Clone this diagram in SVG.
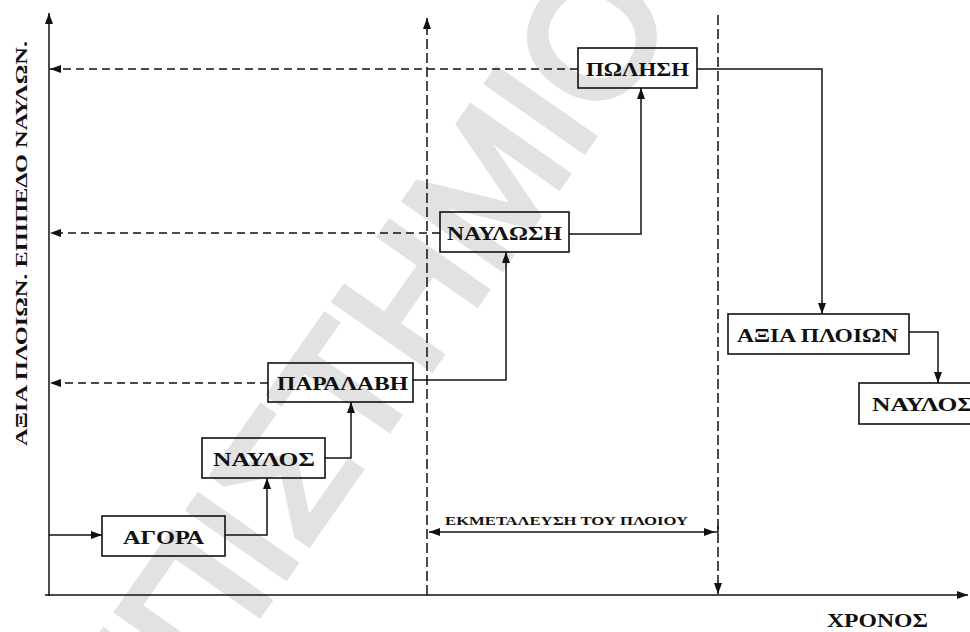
<svg xmlns="http://www.w3.org/2000/svg" width="970" height="632" viewBox="0 0 970 632">
<style>
.box{fill:none;stroke:#111;stroke-width:1.6}
.lbl{font-family:"Liberation Serif","DejaVu Serif",serif;font-weight:bold;font-size:19px;fill:#111}
.ln{fill:none;stroke:#111;stroke-width:1.5}
.dash{fill:none;stroke:#111;stroke-width:1.5;stroke-dasharray:8 5}
.vdash{fill:none;stroke:#111;stroke-width:1.5;stroke-dasharray:10 4}
.wm{font-family:"Liberation Sans","DejaVu Sans",sans-serif;font-size:170px;fill:#e2e2e2;stroke:#e2e2e2;stroke-width:7;stroke-linejoin:miter}
</style>
<defs>
<marker id="ah" markerUnits="userSpaceOnUse" markerWidth="12" markerHeight="8" refX="11" refY="4" orient="auto-start-reverse">
<path d="M0,0 L11,4 L0,8 z" fill="#111"/>
</marker>
</defs>
<rect width="970" height="632" fill="#fff"/>
<text class="wm" transform="translate(678,16) rotate(-55)" text-anchor="end">ΠΑΝΕΠΙΣΤΗΜΙΟ</text>

<g id="axes">
<line class="ln" x1="49" y1="596" x2="49" y2="13" marker-end="url(#ah)"/>
<line class="ln" x1="45" y1="595" x2="968" y2="595" marker-end="url(#ah)"/>
<text class="lbl" style="font-size:17px" transform="translate(27,243.5) rotate(-90)" text-anchor="middle" textLength="405" lengthAdjust="spacingAndGlyphs">ΑΞΙΑ ΠΛΟΙΩΝ. ΕΠΙΠΕΔΟ ΝΑΥΛΩΝ.</text>
<text class="lbl" x="827" y="627" textLength="101" lengthAdjust="spacingAndGlyphs">ΧΡΟΝΟΣ</text>
</g>

<g id="connectors">
<line class="vdash" x1="427" y1="595" x2="427" y2="18" marker-end="url(#ah)"/>
<line class="vdash" x1="718" y1="15" x2="718" y2="594" marker-end="url(#ah)"/>
<path class="dash" d="M578,69 H50" marker-end="url(#ah)"/>
<path class="dash" d="M440,233 H50" marker-end="url(#ah)"/>
<path class="dash" d="M268,383 H50" marker-end="url(#ah)"/>
<path class="ln" d="M49,535 H102" marker-end="url(#ah)"/>
<path class="ln" d="M225,535 H267 V478" marker-end="url(#ah)"/>
<path class="ln" d="M325,458 H351 V402" marker-end="url(#ah)"/>
<path class="ln" d="M413,380 H506 V252" marker-end="url(#ah)"/>
<path class="ln" d="M569,234 H641 V88" marker-end="url(#ah)"/>
<path class="ln" d="M697,69 H822 V314" marker-end="url(#ah)"/>
<path class="ln" d="M909,332 H938 V383" marker-end="url(#ah)"/>
<path class="ln" d="M429,532 H715" marker-start="url(#ah)" marker-end="url(#ah)"/>
<path class="ln" d="M715,532 H718 V526"/>
<text class="lbl" style="font-size:13px" x="445" y="525" textLength="243" lengthAdjust="spacingAndGlyphs">ΕΚΜΕΤΑΛΕΥΣΗ ΤΟΥ ΠΛΟΙΟΥ</text>
</g>

<g id="agora">
<rect class="box" x="102" y="516" width="123" height="40"/>
<text class="lbl" x="163.5" y="543.5" text-anchor="middle" textLength="81" lengthAdjust="spacingAndGlyphs">ΑΓΟΡΑ</text>
</g>
<g id="naylos1">
<rect class="box" x="202" y="438" width="123" height="40"/>
<text class="lbl" x="264" y="465.5" text-anchor="middle" textLength="102" lengthAdjust="spacingAndGlyphs">ΝΑΥΛΟΣ</text>
</g>
<g id="paralavi">
<rect class="box" x="268" y="363" width="145" height="39"/>
<text class="lbl" x="342.5" y="389.5" text-anchor="middle" textLength="131" lengthAdjust="spacingAndGlyphs">ΠΑΡΑΛΑΒΗ</text>
</g>
<g id="naylosi">
<rect class="box" x="440" y="212" width="129" height="40"/>
<text class="lbl" x="504.5" y="239.5" text-anchor="middle" textLength="115" lengthAdjust="spacingAndGlyphs">ΝΑΥΛΩΣΗ</text>
</g>
<g id="polisi">
<rect class="box" x="578" y="48" width="119" height="40"/>
<text class="lbl" x="637.5" y="76" text-anchor="middle" textLength="103" lengthAdjust="spacingAndGlyphs">ΠΩΛΗΣΗ</text>
</g>
<g id="axia">
<rect class="box" x="728" y="314" width="181" height="40"/>
<text class="lbl" x="817.5" y="341.5" text-anchor="middle" textLength="161" lengthAdjust="spacingAndGlyphs">ΑΞΙΑ ΠΛΟΙΩΝ</text>
</g>
<g id="naylos2">
<rect class="box" x="859" y="383" width="130" height="41"/>
<text class="lbl" x="872" y="411" textLength="102" lengthAdjust="spacingAndGlyphs">ΝΑΥΛΟΣ</text>
</g>
</svg>
